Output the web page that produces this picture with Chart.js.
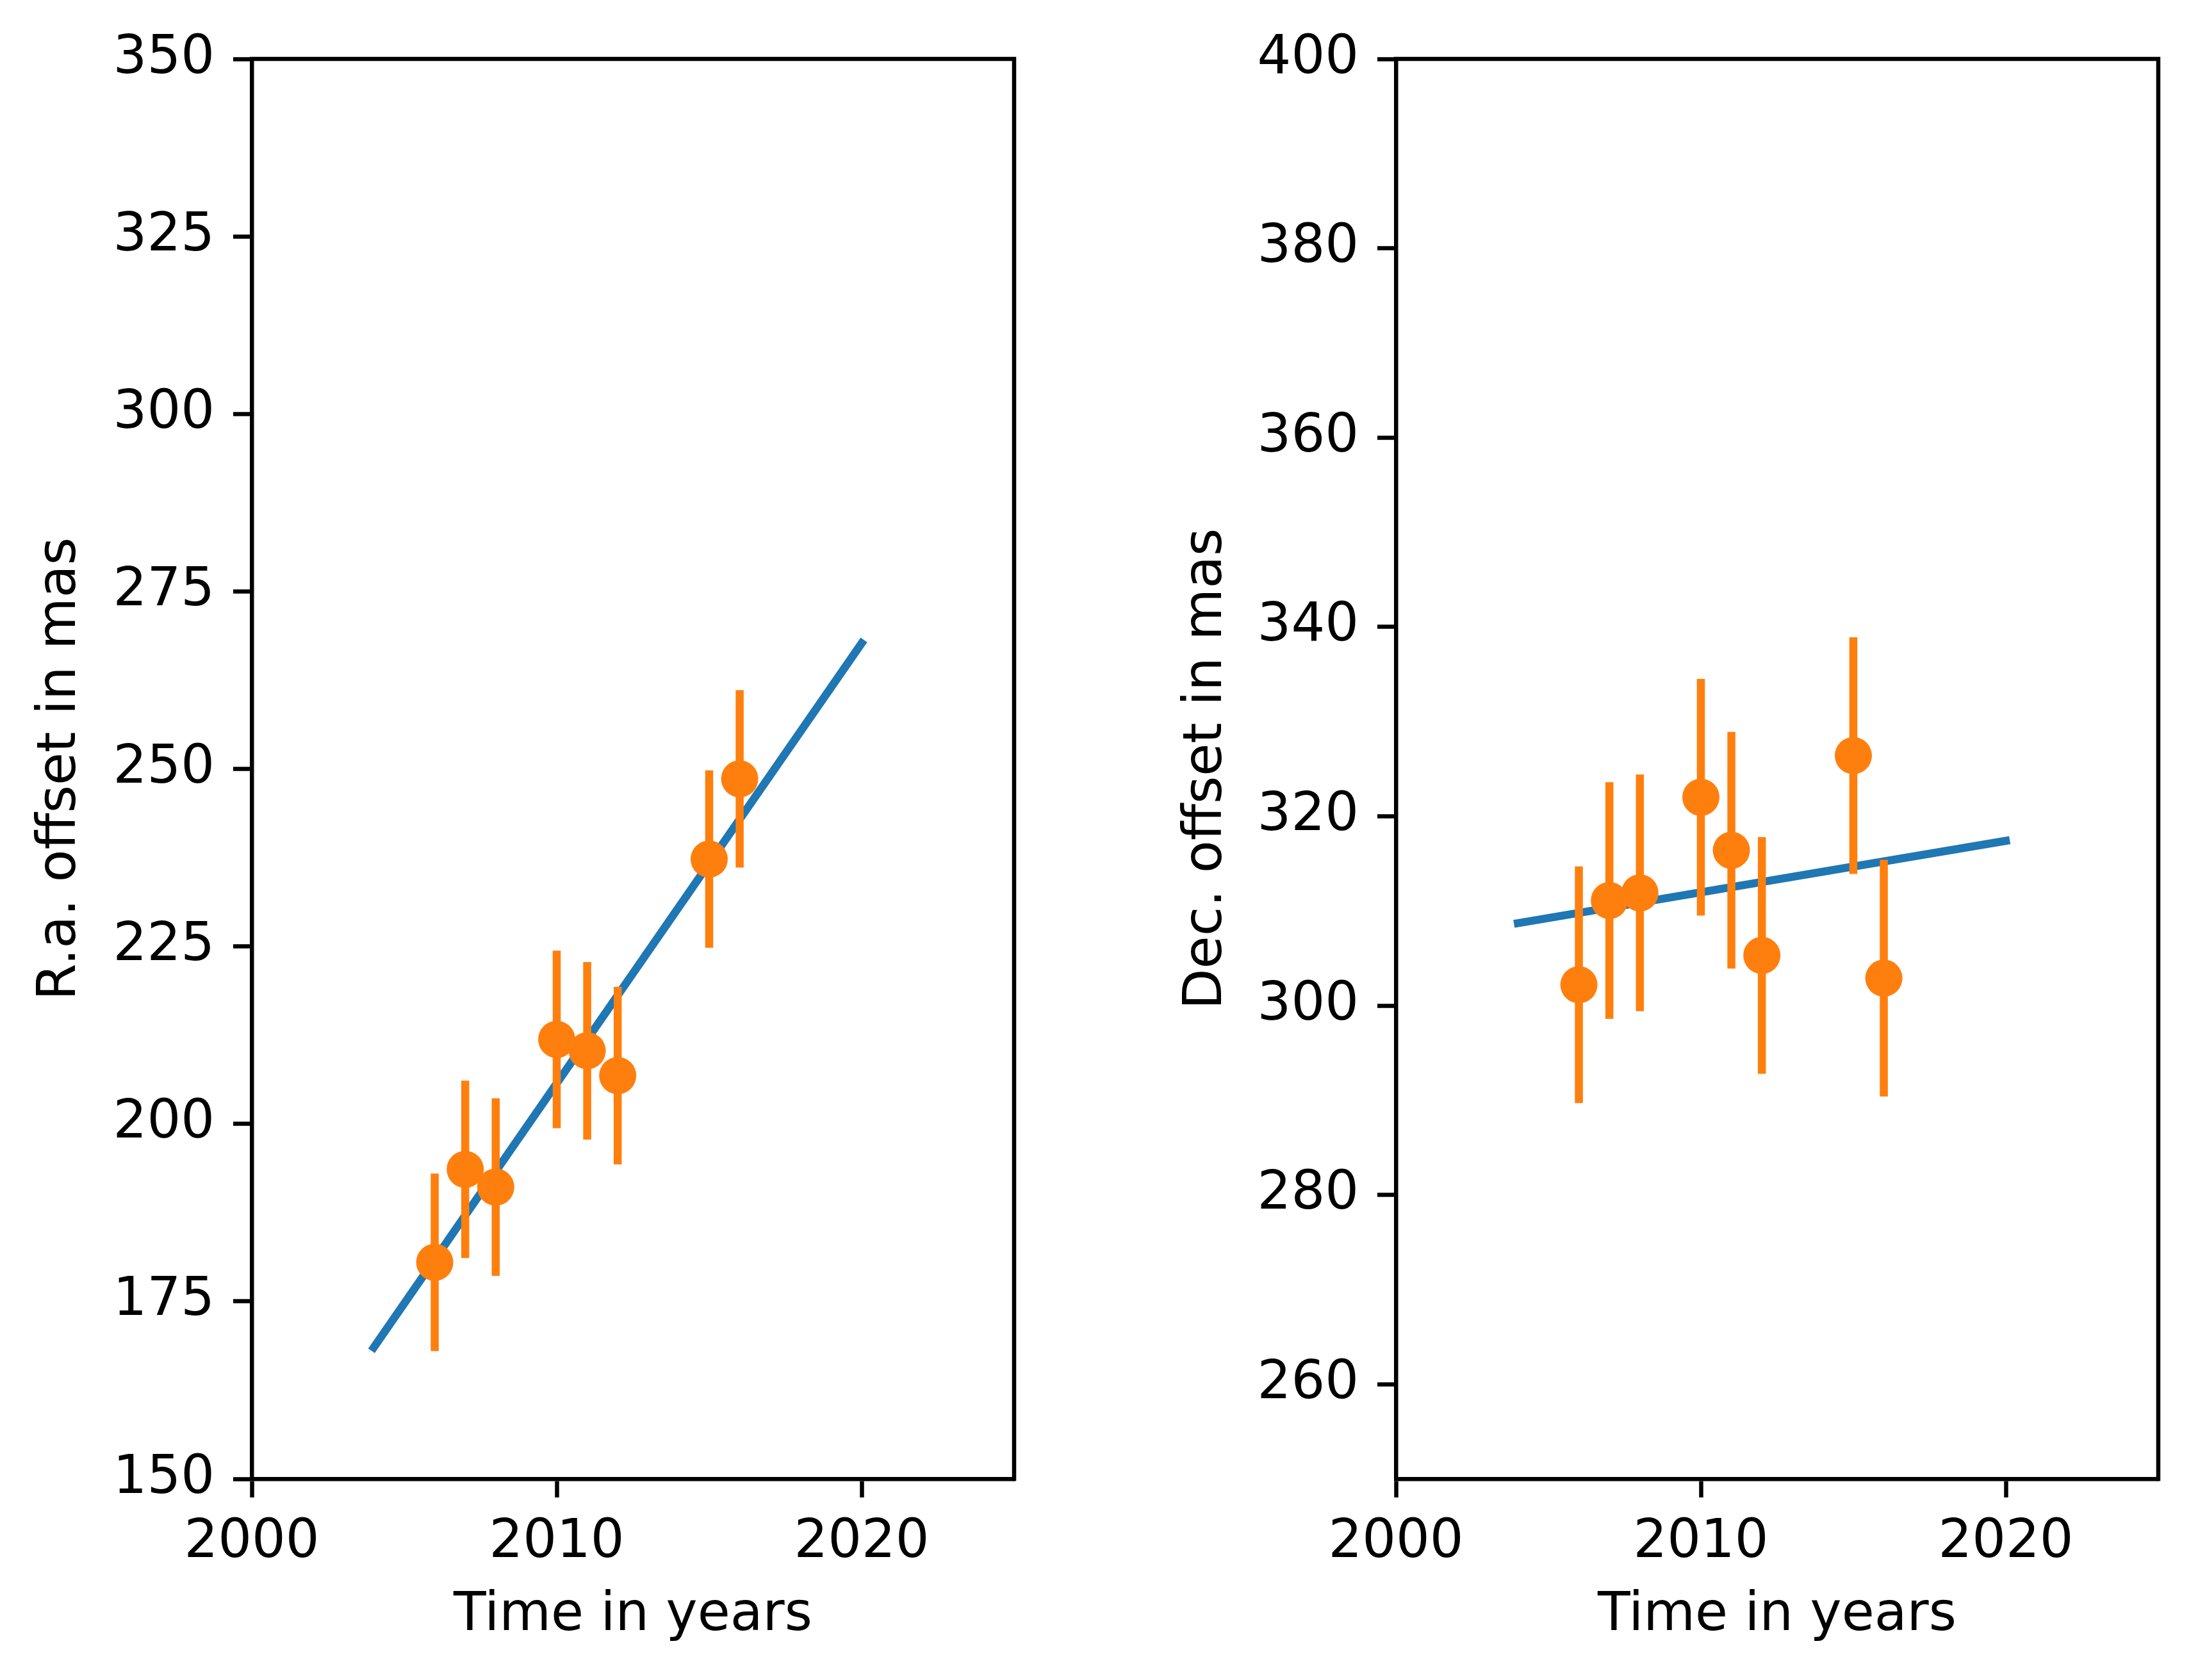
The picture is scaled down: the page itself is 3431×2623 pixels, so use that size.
<!DOCTYPE html>
<html>
<head>
<meta charset="utf-8">
<script src="https://cdn.jsdelivr.net/npm/chart.js@4/dist/chart.umd.min.js"></script>
<style>
  html, body { margin: 0; padding: 0; background: #fff; }
  #wrap { position: relative; width: 3431px; height: 2623px; }
  canvas { position: absolute; top: 0; }
  #raChart { left: 0; }
  #decChart { left: 1715px; }
</style>
</head>
<body>
<div id="wrap">
  <canvas id="raChart" width="1715" height="2623"></canvas>
  <canvas id="decChart" width="1716" height="2623"></canvas>
</div>
<script>
// Observation epochs (years)
const years = [2006, 2007, 2008, 2010, 2011, 2012, 2015, 2016];

// R.a. offsets and errors (mas)
const raValues = [180.5, 193.6, 191.1, 211.9, 210.3, 206.8, 237.3, 248.6];
const raErrors = [12.5, 12.5, 12.5, 12.5, 12.5, 12.5, 12.5, 12.5];

// Dec. offsets and errors (mas)
const decValues = [302.2, 311.1, 311.9, 322.0, 316.4, 305.3, 326.4, 302.9];
const decErrors = [12.5, 12.5, 12.5, 12.5, 12.5, 12.5, 12.5, 12.5];

// Fitted motion lines (end points)
const fitYears = [2004, 2020];
const raFit = [168.5, 267.7];
const decFit = [308.7, 317.4];

// Tick labels
const xTicks = [2000, 2010, 2020];
const raTicks = [150, 175, 200, 225, 250, 275, 300, 325, 350];
const decTicks = [260, 280, 300, 320, 340, 360, 380, 400];

const ORANGE = '#ff7f0e';
const BLUE = '#1f77b4';

Chart.defaults.font.family = 'DejaVu Sans';
Chart.defaults.font.size = 83;
Chart.defaults.color = '#000';

// Draws the top and right spines so the plot gets a full frame
const framePlugin = {
    id: 'frame',
    afterDraw(chart) {
        const a = chart.chartArea;
        const ctx = chart.ctx;
        ctx.save();
        ctx.strokeStyle = '#000';
        ctx.lineWidth = 6.5;
        ctx.lineCap = 'square';
        ctx.beginPath();
        ctx.moveTo(a.left, a.top);
        ctx.lineTo(a.right, a.top);
        ctx.lineTo(a.right, a.bottom);
        ctx.stroke();
        ctx.restore();
    }
};

function toPoints(xs, ys) {
    return xs.map((x, i) => ({ x: x, y: ys[i] }));
}

// Vertical error bars as one broken line (null splits the segments)
function errorBarPoints(xs, ys, errs) {
    const pts = [];
    xs.forEach((x, i) => {
        pts.push({ x: x, y: ys[i] - errs[i] });
        pts.push({ x: x, y: ys[i] + errs[i] });
        pts.push({ x: x, y: null });
    });
    return pts;
}

function makeChart(canvasId, values, errors, fit, yTicks, yMin, yMax, yTitle, yWidth, padRight, titlePad) {
    const axisStyle = {
        border: { display: true, color: '#000', width: 6.5 },
        grid: { drawOnChartArea: false, drawTicks: true, tickLength: 29, tickWidth: 6.5, tickColor: '#000' }
    };
    return new Chart(document.getElementById(canvasId), {
        type: 'scatter',
        data: {
            datasets: [
                {
                    label: 'data',
                    data: toPoints(years, values),
                    showLine: false,
                    pointRadius: 29,
                    pointHoverRadius: 29,
                    pointBackgroundColor: ORANGE,
                    pointBorderWidth: 0
                },
                {
                    label: 'errors',
                    data: errorBarPoints(years, values, errors),
                    showLine: true,
                    spanGaps: false,
                    borderColor: ORANGE,
                    borderWidth: 12.5,
                    borderCapStyle: 'butt',
                    pointRadius: 0
                },
                {
                    label: 'fit',
                    data: toPoints(fitYears, fit),
                    showLine: true,
                    borderColor: BLUE,
                    borderWidth: 12.5,
                    borderCapStyle: 'square',
                    pointRadius: 0
                }
            ]
        },
        options: {
            responsive: false,
            animation: false,
            devicePixelRatio: 1,
            layout: { padding: { top: 92, right: padRight, bottom: 0, left: 0 } },
            plugins: { legend: { display: false }, tooltip: { enabled: false } },
            scales: {
                x: {
                    type: 'linear',
                    min: 2000,
                    max: 2025,
                    ...axisStyle,
                    ticks: { padding: 22, maxRotation: 0, callback: v => String(v) },
                    afterBuildTicks: s => { s.ticks = xTicks.map(v => ({ value: v })); },
                    afterFit: s => { s.height = 314; },
                    title: { display: true, text: 'Time in years', padding: { top: 0, bottom: 50 } }
                },
                y: {
                    type: 'linear',
                    min: yMin,
                    max: yMax,
                    ...axisStyle,
                    ticks: { padding: 29, callback: v => String(v) },
                    afterBuildTicks: s => { s.ticks = yTicks.map(v => ({ value: v })); },
                    afterFit: s => { s.width = yWidth; },
                    title: { display: true, text: yTitle, padding: { top: titlePad, bottom: 0 } }
                }
            }
        },
        plugins: [framePlugin]
    });
}

makeChart('raChart', raValues, raErrors, raFit, raTicks, 150, 350, 'R.a. offset in mas', 393, 132, 46);
makeChart('decChart', decValues, decErrors, decFit, decTicks, 250, 400, 'Dec. offset in mas', 464, 62, 120);
</script>
</body>
</html>
